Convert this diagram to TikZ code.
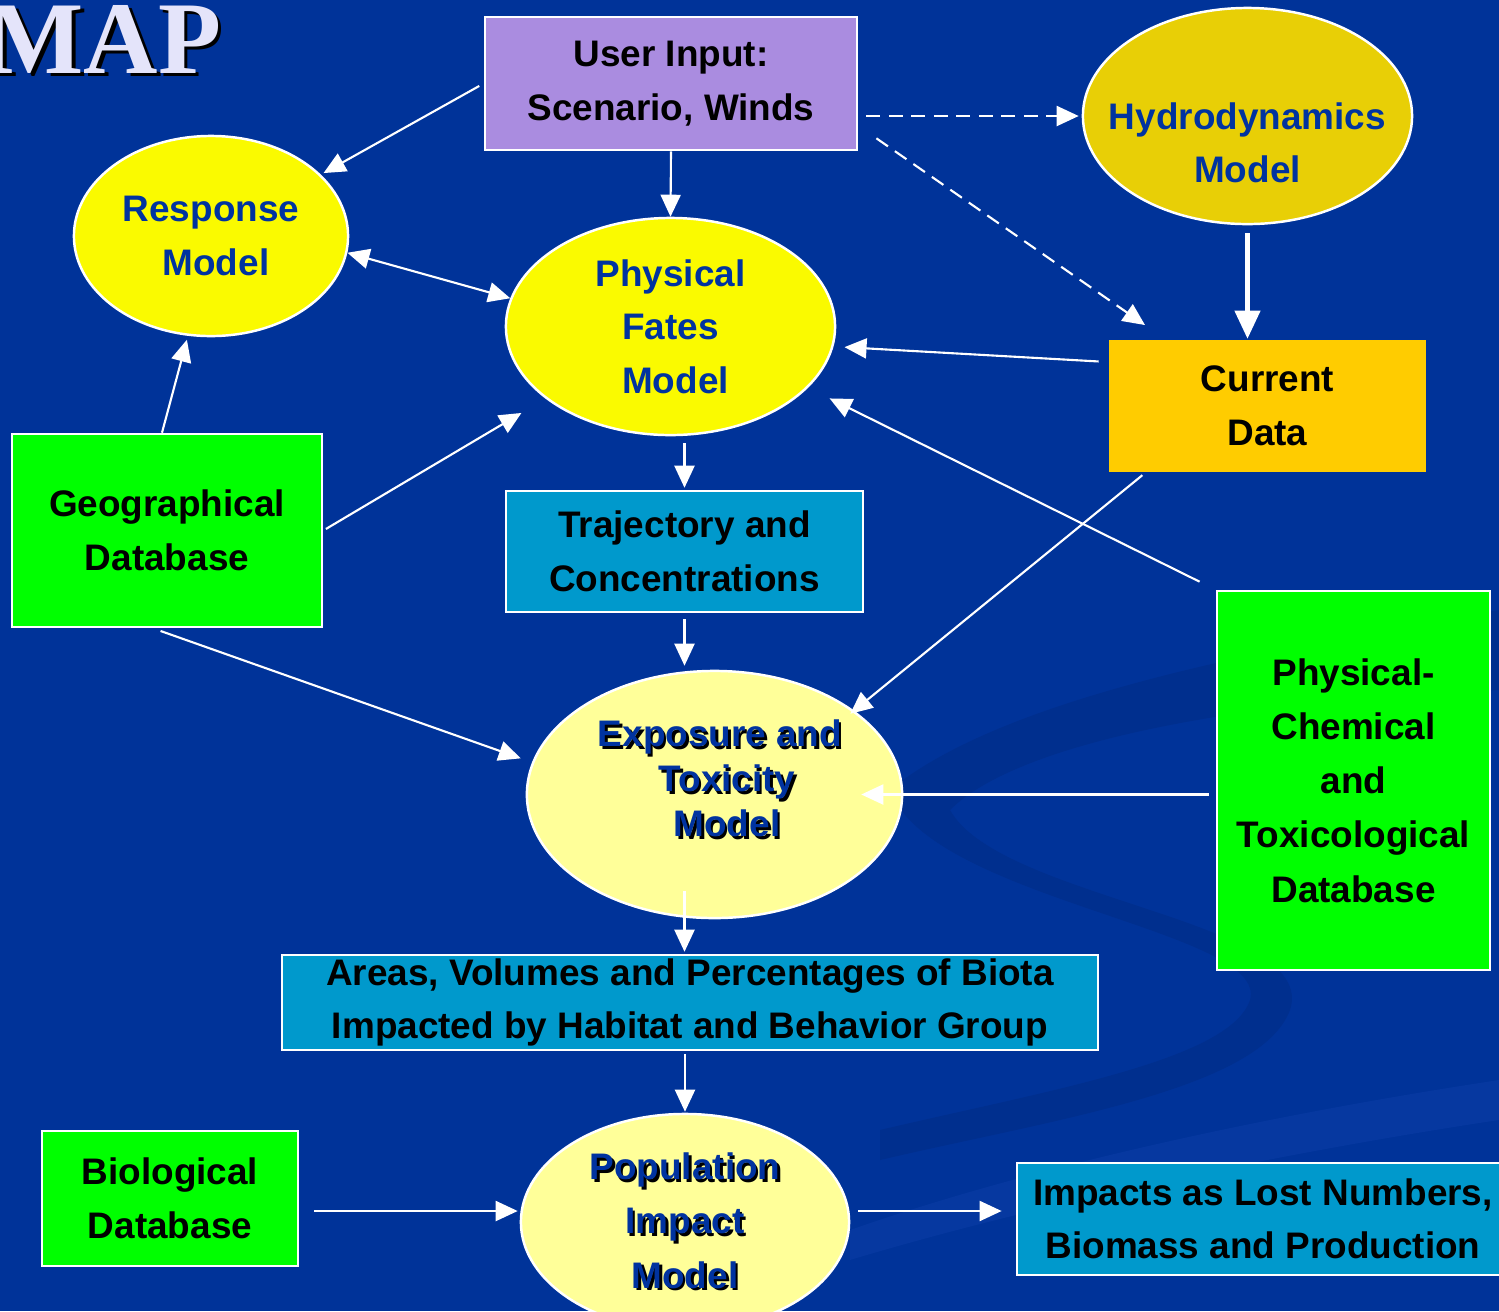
\documentclass[tikz,border=0pt]{standalone}
\usepackage{fontspec}
\setmainfont{Liberation Sans}
\newfontfamily\titlefont{Liberation Serif}
\usetikzlibrary{arrows.meta,shapes.geometric}

\definecolor{slidebg}{HTML}{003399}
\definecolor{swirldark}{HTML}{002F8E}
\definecolor{swirllight}{HTML}{0638A0}
\definecolor{userpurple}{HTML}{AA8CE0}
\definecolor{hydroyellow}{HTML}{E8CF06}
\definecolor{fateyellow}{HTML}{FAFA00}
\definecolor{paleyellow}{HTML}{FFFF99}
\definecolor{curorange}{HTML}{FFCC00}
\definecolor{dbgreen}{HTML}{00FF00}
\definecolor{outcyan}{HTML}{0099CC}
\definecolor{modelblue}{HTML}{0033A0}
\definecolor{titlewhite}{HTML}{E4E4FA}

\newcommand\shd[2][0.7pt]{\makebox[0pt][l]{\hspace{#1}\raisebox{-#1}{\textcolor{black}{#2}}}#2}

\tikzset{
  box/.style={rectangle, draw=white, line width=0.7pt, inner sep=0pt, align=center,
    font=\fontsize{10.5}{15.2}\selectfont\bfseries, text=black},
  ell/.style={ellipse, draw=white, line width=0.7pt, inner sep=0pt, align=center,
    font=\fontsize{10.5}{15.2}\selectfont\bfseries, text=modelblue},
  shadowlbl/.style={align=center, font=\fontsize{10.5}{12.8}\selectfont\bfseries, text=modelblue},
  arr/.style={draw=white, line width=0.6pt, -{Triangle[length=0.22cm,width=0.2cm]}},
  dblarr/.style={draw=white, line width=0.6pt, {Triangle[length=0.22cm,width=0.2cm]}-{Triangle[length=0.22cm,width=0.2cm]}},
  bigarr/.style={draw=white, line width=1.2pt, -{Triangle[length=0.28cm,width=0.25cm]}},
  dasharr/.style={arr, dash pattern=on 4pt off 2.4pt},
}

\begin{document}
\begin{tikzpicture}[x=0.01cm, y=-0.01cm]
\useasboundingbox (0,0) rectangle (1499,1311);
\clip (0,0) rectangle (1499,1311);
\fill[slidebg] (0,0) rectangle (1499,1311);

% background swirl
\fill[swirldark] (890,790) .. controls (1000,700) and (1250,650) .. (1499,610)
  -- (1499,690) .. controls (1250,700) and (1020,740) .. (950,810)
  .. controls (1000,900) and (1320,920) .. (1290,1010)
  .. controls (1260,1090) and (1050,1120) .. (880,1160)
  -- (880,1130) .. controls (1050,1090) and (1230,1060) .. (1250,1000)
  .. controls (1270,930) and (930,900) .. (890,790) -- cycle;
\fill[swirllight] (850,1230) .. controls (1050,1160) and (1300,1110) .. (1499,1080)
  -- (1499,1120) .. controls (1300,1150) and (1050,1200) .. (850,1260) -- cycle;

\node[anchor=base east, inner sep=0pt, text=titlewhite,
  font=\titlefont\fontsize{29.3}{30}\selectfont\bfseries] (title) at (222,73) {\shd[1pt]{MAP}};

\node[box, fill=userpurple, minimum width=3.72cm, minimum height=1.33cm] (user) at (671,83.5) {User Input:\\Scenario, Winds};
\node[ell, fill=hydroyellow, minimum width=3.29cm, minimum height=2.16cm,
  label={[ell, draw=none, yshift=-0.265cm]center:{Hydrodynamics\\Model}}] (hydro) at (1247.5,116) {};
\node[ell, fill=fateyellow, minimum width=2.74cm, minimum height=2.00cm] (resp) at (211,236) {Response\\\hspace*{0.1cm}Model};
\node[ell, fill=fateyellow, minimum width=3.29cm, minimum height=2.17cm] (phys) at (670.5,326.5) {Physical\\Fates\\\hspace*{0.1cm}Model};
\node[box, draw=none, fill=curorange, minimum width=3.17cm, minimum height=1.32cm] (cur) at (1267.5,406) {Current\\Data};
\node[box, fill=dbgreen, minimum width=3.10cm, minimum height=1.93cm] (geo) at (167,530.5) {Geographical\\Database};
\node[box, fill=outcyan, minimum width=3.57cm, minimum height=1.21cm] (traj) at (684.5,551.5) {Trajectory and\\Concentrations};
\node[ell, fill=paleyellow, minimum width=3.75cm, minimum height=2.47cm,
  label={[shadowlbl, xshift=0.055cm, yshift=0.145cm]center:{\shd{Exposure and}\\\hspace*{0.14cm}\shd{Toxicity}\\\hspace*{0.14cm}\shd{Model}}}] (expo) at (714.5,794.5) {};
\node[box, fill=dbgreen, minimum width=2.73cm, minimum height=3.79cm, font=\fontsize{10.5}{15.4}\selectfont\bfseries] (pcdb) at (1353.5,780.5) {Physical-\\Chemical\\and\\Toxicological\\Database};
\node[box, fill=outcyan, minimum width=8.16cm, minimum height=0.95cm] (areas) at (690,1002.5) {Areas, Volumes and Percentages of Biota\\Impacted by Habitat and Behavior Group};
\node[box, fill=dbgreen, minimum width=2.56cm, minimum height=1.35cm] (bio) at (170,1198.5) {Biological\\Database};
\node[ell, fill=paleyellow, minimum width=3.28cm, minimum height=2.16cm, font=\fontsize{10.5}{15.4}\selectfont\bfseries] (pop) at (685,1222) {\shd{Population}\\\shd{Impact}\\\shd{Model}};
\node[box, fill=outcyan, minimum width=4.92cm, minimum height=1.12cm] (imp) at (1263,1219) {Impacts as Lost Numbers,\\Biomass and Production};

\draw[arr, shorten <=0.05cm, shorten >=0.03cm] (user.west) -- (resp);
\draw[arr] (user.south) -- (phys.north);
\draw[dasharr, shorten <=0.08cm, shorten >=0.03cm] (user.east |- hydro.west) -- (hydro.west);
\draw[dasharr, shorten <=0.22cm, shorten >=0.24cm] ([yshift=0.255cm]user.south east) -- ([xshift=0.57cm]cur.north west);
\draw[bigarr, shorten <=0.08cm] (hydro.south) -- (hydro.south |- cur.north);
\draw[dblarr] (resp.-7) -- (phys.170);
\draw[arr, shorten <=0.09cm, shorten >=0.11cm] ([yshift=0.44cm]cur.west) -- (phys.-7);
\draw[arr, shorten >=0.04cm] ([xshift=-0.05cm]geo.north) -- (resp.-103);
\draw[arr, shorten <=0.03cm, shorten >=0.28cm] (geo.east) -- (phys.210);
\draw[arr, shorten <=0.07cm, shorten >=0.02cm] (phys.south -| traj.north) -- (traj.north);
\draw[arr, shorten <=0.06cm, shorten >=0.04cm] (traj.south) -- (traj.south |- expo.north);
\draw[arr, shorten <=0.08cm, shorten >=0.12cm] ([xshift=-0.14cm]geo.south) -- (expo.170);
\draw[arr, shorten <=0.03cm, shorten >=-0.05cm] ([xshift=0.37cm]cur.south west) -- (expo.31);
\draw[arr, shorten <=0.18cm, shorten >=0.24cm] (pcdb.north west) -- (phys.-24);
\draw[arr, shorten <=0.07cm] (pcdb.west |- expo.east) -- ([xshift=-0.42cm]expo.east);
\draw[arr, shorten >=0.02cm] ([yshift=0.28cm]expo.south -| traj.north) -- (areas.north -| traj.north);
\draw[arr, shorten <=0.03cm, shorten >=0.01cm] (areas.south -| pop.north) -- (pop.north);
\draw[arr, shorten <=0.15cm, shorten >=0.02cm] ([yshift=-0.125cm]bio.east) -- ([yshift=-0.125cm]bio.east -| pop.west);
\draw[arr, shorten <=0.08cm, shorten >=0.14cm] ([yshift=0.11cm]pop.east) -- ([yshift=0.11cm]pop.east -| imp.west);
\end{tikzpicture}
\end{document}
